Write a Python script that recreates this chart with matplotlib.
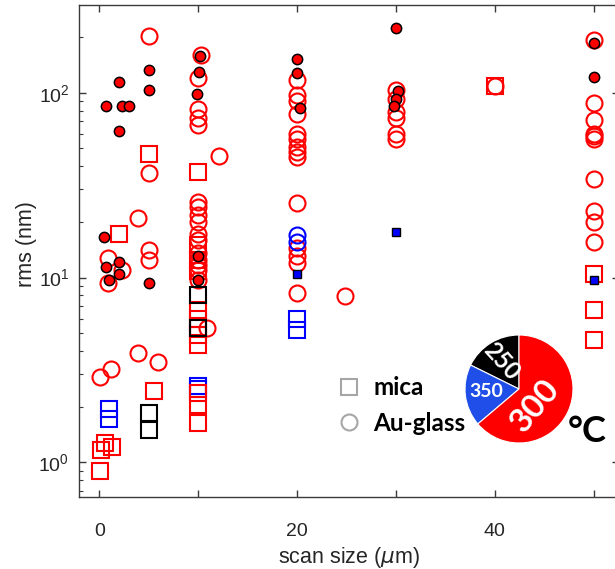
import matplotlib
matplotlib.use("Agg")
import matplotlib.pyplot as plt
from matplotlib.lines import Line2D
from matplotlib.ticker import LogLocator, NullFormatter

# ---- data: scan size (um) vs rms roughness (nm) ----
# 300 C, Au-glass (open red circles)
au300_x = [0.1, 1.2, 3.9, 5.9, 0.9, 2.3, 0.9, 5.0, 5.0, 5.0, 5.0, 3.9, 12.1,
           10.3, 10, 10, 10, 10, 10, 10, 10, 10, 10, 10, 10, 10, 10, 10, 10, 10.9,
           20, 20, 20, 20, 20, 20, 20, 20, 20, 20, 20, 20, 20, 20, 24.8,
           30, 30, 30, 30, 30, 30,
           40,
           50, 50, 50, 50, 50, 50, 50, 50, 50, 50]
au300_y = [2.9, 3.2, 3.9, 3.5, 12.7, 11.0, 9.3, 12.4, 14.1, 37, 203, 21, 45.6,
           160, 120, 82, 73, 67, 25.7, 24.2, 21.8, 20, 17.3, 15.9, 13.5, 12.4, 11.7, 11.0, 9.7, 5.3,
           117, 97, 90, 77, 60, 56, 51, 48, 45, 25.4, 14.5, 13.0, 12.0, 8.2, 7.9,
           103, 93, 79, 73, 60, 56,
           109,
           193, 88, 71, 60, 58, 56, 34, 23, 20, 15.6]

# 300 C, mica (open red squares)
mica300_x = [2.0, 5.0, 5.5, 0.6, 1.25, 0.15, 0.1,
             10, 10, 10, 10, 10, 10, 10, 10, 10, 10, 10, 10,
             40, 50, 50, 50]
mica300_y = [17.3, 46.6, 2.44, 1.27, 1.21, 1.17, 0.9,
             37.4, 15.0, 12.5, 10.8, 6.7, 6.0, 5.4, 4.9, 4.3, 2.37, 2.04, 1.63,
             109, 10.4, 6.7, 4.6]

# 250 C, mica (open black squares)
mica250_x = [5.0, 5.0, 10, 10]
mica250_y = [1.85, 1.5, 8.0, 5.35]

# 350 C, mica (open blue squares)
mica350_x = [0.95, 0.95, 10, 10, 20, 20]
mica350_y = [1.95, 1.71, 2.6, 2.5, 6.0, 5.2]

# 350 C, Au-glass (open blue circles)
au350_x = [20, 20]
au350_y = [17.0, 15.5]

# filled red circles (black rim)
filled_c_x = [0.7, 2.0, 2.3, 3.0, 2.0, 5.0, 5.0, 0.45, 0.65, 2.0, 1.0, 2.0, 5.0,
              10.2, 10.1, 9.9, 10, 10, 20, 20, 20.3, 30, 30.2, 30, 29.8, 50, 50]
filled_c_y = [85, 115, 85, 85, 62, 133, 104, 16.6, 11.4, 12.1, 9.7, 10.4, 9.3,
              158, 129, 99, 13.1, 9.7, 152, 128, 83, 225, 102, 93, 85, 185, 122]

# filled blue squares (black rim)
filled_s_x = [20, 30, 50]
filled_s_y = [10.4, 17.7, 9.7]

# share of samples per growth temperature
pie_labels = ["250", "350", "300"]
pie_shares = [17.7, 18.5, 63.8]

x_ticks = [0, 20, 40]
x_minor_ticks = [10, 30, 50]

RED = "#ff0000"
BLUE = "#0000ff"
AX_COLOR = "#3a3a3a"
TXT = "#262626"

plt.rcParams["font.family"] = ["Liberation Sans", "DejaVu Sans"]

fig = plt.figure(figsize=(6.15, 5.69), dpi=100)
W, H = 615, 569
ax = fig.add_axes([79 / W, 72 / H, (619 - 79) / W, 492 / H])

open_kw = dict(linestyle="none", markerfacecolor="none")
ax.plot(mica350_x, mica350_y, marker="s", ms=11, mew=1.5, color=BLUE, zorder=2, **open_kw)
ax.plot(mica300_x, mica300_y, marker="s", ms=11, mew=1.5, color=RED, zorder=3, **open_kw)
ax.plot(au300_x, au300_y, marker="o", ms=11.5, mew=1.5, color=RED, zorder=3, **open_kw)
ax.plot(au350_x, au350_y, marker="o", ms=11.5, mew=1.5, color=BLUE, zorder=3.5, **open_kw)
ax.plot(mica250_x, mica250_y, marker="s", ms=11, mew=1.5, color="black", zorder=4, **open_kw)
ax.plot(filled_c_x, filled_c_y, linestyle="none", marker="o", ms=7.4, mew=1.1,
        markerfacecolor=RED, markeredgecolor="black", zorder=5)
ax.plot(filled_s_x, filled_s_y, linestyle="none", marker="s", ms=5.8, mew=1.0,
        markerfacecolor=BLUE, markeredgecolor="black", zorder=5)

ax.set_yscale("log")
ax.set_xlim(-2.05, 52.55)
ax.set_ylim(0.649, 298.4)
ax.set_xticks(x_ticks + x_minor_ticks)
ax.set_xticklabels([str(t) for t in x_ticks] + [""] * len(x_minor_ticks))
ax.yaxis.set_minor_locator(LogLocator(base=10, subs=range(2, 10), numticks=20))
ax.yaxis.set_minor_formatter(NullFormatter())

for side in ax.spines.values():
    side.set_color(AX_COLOR)
    side.set_linewidth(1.0)
ax.tick_params(which="both", direction="in", top=True, right=True,
               color=AX_COLOR, labelcolor=TXT, labelsize=14)
ax.tick_params(which="major", length=5, width=1)
ax.tick_params(which="minor", length=3, width=0.8)
ax.tick_params(axis="y", which="major", pad=7)
ax.tick_params(axis="x", which="major", pad=19)

ax.set_xlabel("scan size ($\\mu$m)", fontsize=15.5, color=TXT, labelpad=3)
ax.set_ylabel("rms (nm)", fontsize=15.5, color=TXT)
ax.yaxis.set_label_coords((37 - 79) / 540, (497 - 244) / 492)

# substrate legend
gray = "#a6a6a6"
handles = [
    Line2D([], [], linestyle="none", marker="s", ms=11, mew=1.5,
           markerfacecolor="none", color=gray),
    Line2D([], [], linestyle="none", marker="o", ms=11.5, mew=1.5,
           markerfacecolor="none", color=gray),
]
ax.legend(handles, ["mica", "Au-glass"], loc="center left",
          bbox_to_anchor=((338 - 79) / 540, (497 - 405.5) / 492),
          frameon=False, handlelength=0.9, handletextpad=0.55,
          borderpad=0, borderaxespad=0, labelspacing=0.5,
          prop={"family": "Lato", "weight": "bold", "size": 17.5})

# temperature pie
r = 54
pax = fig.add_axes([(519 - r) / W, (569 - 389 - r) / H, 2 * r / W, 2 * r / H])
pax.pie(pie_shares, colors=["#000000", "#1f4fe8", RED], startangle=90,
        counterclock=True, radius=1.0,
        wedgeprops=dict(edgecolor="white", linewidth=0.8))
pax.set_xlim(-1, 1)
pax.set_ylim(-1, 1)
pax.set_aspect("equal")
pax.axis("off")
pfont = dict(family="Lato", weight="bold", color="white", ha="center", va="center")
pax.text(-0.33, 0.52, pie_labels[0], fontsize=17, rotation=-48, **pfont)
pax.text(-0.61, -0.04, pie_labels[1], fontsize=14, **pfont)
pax.text(0.30, -0.30, pie_labels[2], fontsize=24, rotation=50, **pfont)

fig.text(586.7 / W, 1 - 431 / H, "°C", fontsize=26, fontweight="bold",
         family="Lato", ha="center", va="center", color="black")

fig.savefig("out.png", dpi=100)
